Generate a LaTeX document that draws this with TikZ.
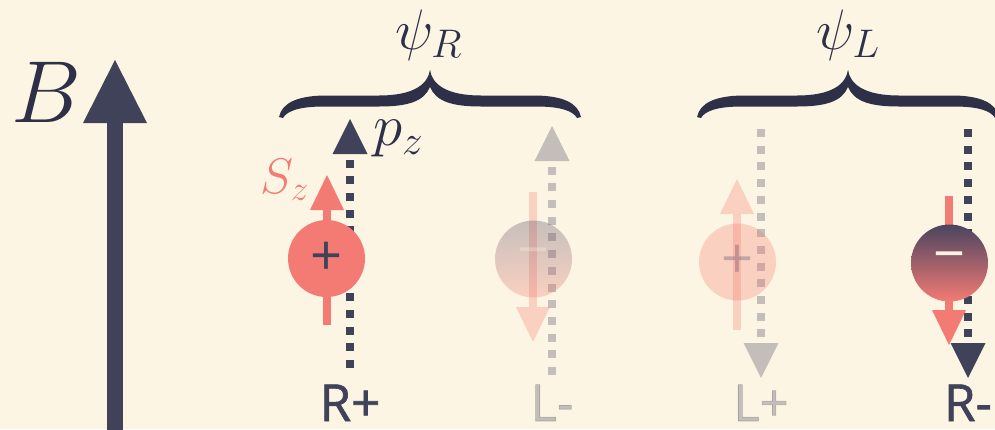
\RequirePackage{fix-cm}
\documentclass[tikz,border=0pt]{standalone}
\usepackage{fontspec}
\newfontfamily\labelfont[FakeBold=1.2]{Open Sans}
\newfontfamily\signfont{Open Sans}
\usetikzlibrary{arrows.meta}
\definecolor{bg}{HTML}{FDF5E3}
\definecolor{navy}{HTML}{3F4259}
\definecolor{ink}{HTML}{2D3047}
\definecolor{salmon}{HTML}{F47B74}
\definecolor{gradtop}{HTML}{4A4560}
\tikzset{
  particle/.style={circle, minimum size=77pt, inner sep=0pt, font=\signfont\fontsize{56pt}{58pt}\selectfont},
  bigarrow/.style={navy, line width=16pt, -{Triangle[length=63pt,width=64pt,line width=0pt]}},
  momarrow/.style={navy, line width=8pt, dash pattern=on 8pt off 8.7pt, -{Triangle[length=35pt,width=35pt,line width=0pt]}},
  spinarrow/.style={salmon, line width=8pt, -{Triangle[length=35pt,width=34pt,line width=0pt]}},
  faded/.style={opacity=0.3},
  statelabel/.style={anchor=base, inner sep=0pt, font=\labelfont\fontsize{51pt}{53pt}\selectfont},
  mathlabel/.style={text=ink, inner sep=0pt},
  bracepic/.pic={
    \fill[ink] (-151,0) .. controls (-148,-14) and (-133,-21) .. (-106,-21.5) -- (-51,-21.5)
      .. controls (-16,-21.5) and (-2,-33) .. (0,-47) -- (0,-30)
      .. controls (-6,-16) and (-21,-10.5) .. (-51,-10.5) -- (-106,-10.5)
      .. controls (-131,-10.5) and (-143,-6) .. (-147,1) -- cycle;
    \fill[ink, xscale=-1] (-151,0) .. controls (-148,-14) and (-133,-21) .. (-106,-21.5) -- (-51,-21.5)
      .. controls (-16,-21.5) and (-2,-33) .. (0,-47) -- (0,-30)
      .. controls (-6,-16) and (-21,-10.5) .. (-51,-10.5) -- (-106,-10.5)
      .. controls (-131,-10.5) and (-143,-6) .. (-147,1) -- cycle;
  }
}
\begin{document}
\begin{tikzpicture}[x=1pt, y=-1pt]
\fill[bg] (0,0) rectangle (995,429);
\useasboundingbox (0,0) rectangle (995,429);

% magnetic field
\coordinate (Bbot) at (115,440);
\coordinate (Btop) at (115,60);
\draw[bigarrow] (Bbot) -- (Btop);
\node[mathlabel, anchor=base, font=\fontsize{88pt}{90pt}\selectfont] (Blab) at (46,122) {$B$};

% braces
\pic at (430,117) {bracepic};
\pic at (848,117) {bracepic};
\node[mathlabel, anchor=base, font=\fontsize{57pt}{59pt}\selectfont] (psiR) at (428.5,49) {$\psi_R$};
\node[mathlabel, anchor=base, font=\fontsize{57pt}{59pt}\selectfont] (psiL) at (848,49) {$\psi_L$};

% R+
\coordinate (rpP1) at (350,368); \coordinate (rpP2) at (350,119);
\coordinate (rpS1) at (327,325); \coordinate (rpS2) at (327,175);
\draw[momarrow] (rpP1) -- (rpP2);
\draw[spinarrow] (rpS1) -- (rpS2);
\node[particle, fill=salmon, text=navy] (rp) at (326.5,258.5) {+};
\node[mathlabel, anchor=base west, font=\fontsize{59pt}{61pt}\selectfont] (pz) at (373,145.5) {$p_z$};
\node[inner sep=0pt, anchor=base east, text=salmon, font=\fontsize{50pt}{52pt}\selectfont] (sz) at (309,193) {$S_z$};
\node[statelabel, text=navy] (rplab) at (350,421) {R+};

% L- (faded)
\begin{scope}[faded]
\coordinate (lmP1) at (552,375); \coordinate (lmP2) at (552,126);
\coordinate (lmS1) at (533,192); \coordinate (lmS2) at (533,342);
\draw[momarrow] (lmP1) -- (lmP2);
\draw[spinarrow] (lmS1) -- (lmS2);
\node[particle, top color=gradtop, bottom color=salmon, text=bg] (lm) at (533.5,259) {−};
\node[statelabel, text=navy] (lmlab) at (552,421) {L-};
\end{scope}

% L+ (faded)
\begin{scope}[faded]
\coordinate (lpP1) at (761,129); \coordinate (lpP2) at (761,378);
\coordinate (lpS1) at (737,330); \coordinate (lpS2) at (737,179);
\draw[momarrow] (lpP1) -- (lpP2);
\draw[spinarrow] (lpS1) -- (lpS2);
\node[particle, fill=salmon, text=navy] (lp) at (737.5,262) {+};
\node[statelabel, text=navy] (lplab) at (761,421) {L+};
\end{scope}

% R-
\coordinate (rmP1) at (968,129); \coordinate (rmP2) at (968,378);
\coordinate (rmS1) at (949,196); \coordinate (rmS2) at (949,345);
\draw[momarrow] (rmP1) -- (rmP2);
\draw[spinarrow] (rmS1) -- (rmS2);
\node[particle, top color=gradtop, bottom color=salmon, text=bg] (rm) at (949.5,263) {−};
\node[statelabel, text=navy] (rmlab) at (968,421) {R-};
\end{tikzpicture}
\end{document}
